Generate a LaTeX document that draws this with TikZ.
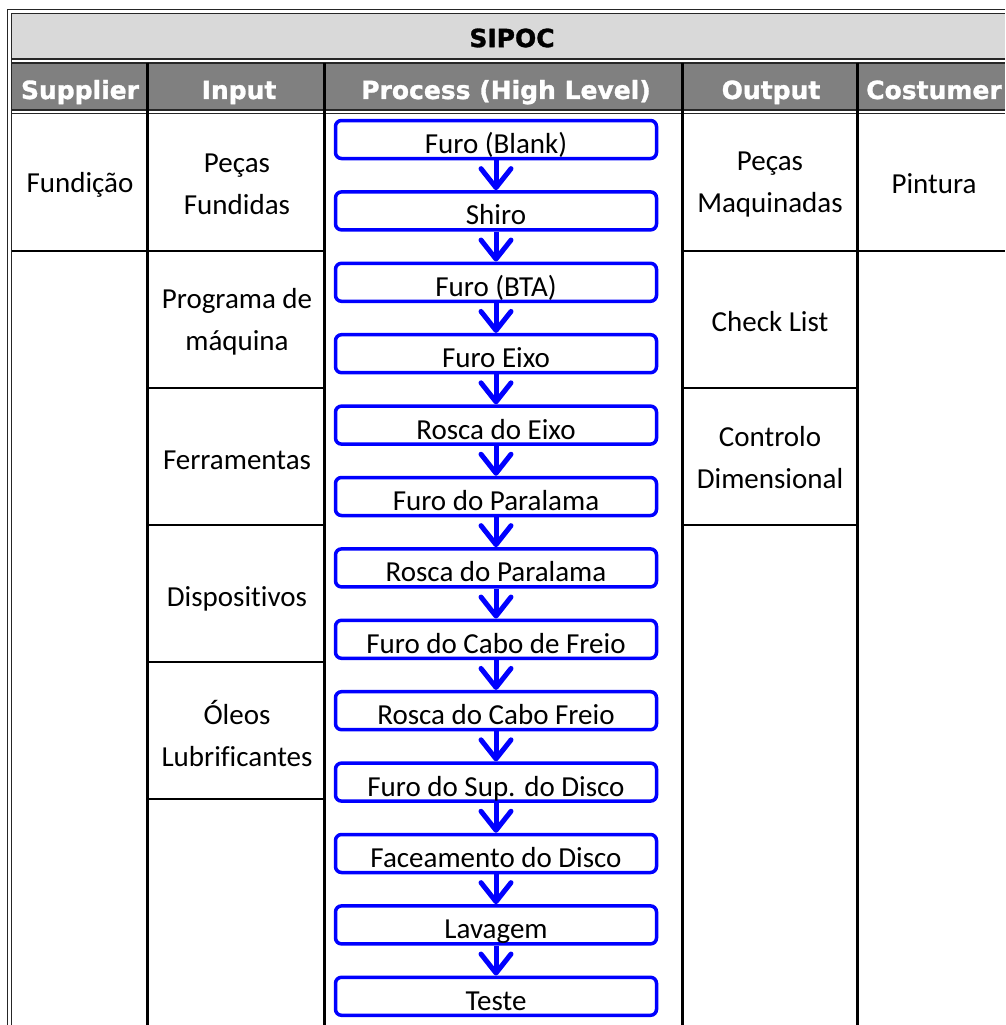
\documentclass[tikz,border=0pt]{standalone}
\usepackage{fontspec}
\setmainfont{Carlito}[Ligatures=CommonOff]
\newfontface\headfont{DejaVu Sans Bold}[FakeBold=1.2]
\usetikzlibrary{arrows.meta}
\definecolor{bandgray}{HTML}{D9D9D9}
\definecolor{headgray}{HTML}{808080}
\definecolor{flowblue}{HTML}{0000FF}

\begin{document}
\begin{tikzpicture}[x=1pt,y=-1pt,
  frameline/.style={draw=black!85, line width=1.3pt},
  colrule/.style={draw=black, line width=3pt},
  rowrule/.style={draw=black, line width=2pt},
  headtext/.style={text=white, font=\headfont\fontsize{25}{30}\selectfont, anchor=base, inner sep=0pt},
  celltext/.style={text=black, font=\fontsize{29}{42}\selectfont, align=center, inner sep=0pt},
  stepbox/.style={draw=flowblue, line width=3.5pt, rounded corners=6pt, fill=white,
    minimum width=321pt, text height=29pt, text depth=1pt, inner ysep=4pt, inner xsep=0pt,
    font=\fontsize{29}{34}\selectfont, text=black},
  flowarrow/.style={draw=flowblue, line width=5pt,
    -{Straight Barb[length=19pt, width=30pt, line cap=round, line join=round]}}
]
\useasboundingbox (0,0) rectangle (1005,1025);

% title band and header row
\fill[bandgray] (11.5,13.5) rectangle (1005,59);
\fill[headgray] (11.5,63) rectangle (1005,110);

% double outer frame
\draw[frameline] (7.5,1025) -- (7.5,9.5) -- (1005,9.5);
\draw[frameline] (11.5,1025) -- (11.5,13.5) -- (1005,13.5);
\draw[frameline] (11.5,59) -- (1005,59);
\draw[frameline] (11.5,63) -- (1005,63);
\draw[frameline] (11.5,110) -- (1005,110);
\draw[frameline] (11.5,113.5) -- (1005,113.5);

% column separators
\foreach \x in {147,324,682,857}
  \draw[colrule] (\x,63) -- (\x,1025);

% row separators
\draw[rowrule] (11.5,251) -- (147,251);
\foreach \y in {251,388,525,662,799}
  \draw[rowrule] (147,\y) -- (324,\y);
\foreach \y in {251,388,525}
  \draw[rowrule] (682,\y) -- (857,\y);
\draw[rowrule] (857,251) -- (1005,251);

% title and column headers
\node[headtext, anchor=center, text=black] (title) at (512,38) {SIPOC};
\node[headtext] (hS) at (80,99)  {Supplier};
\node[headtext] (hI) at (239,99) {Input};
\node[headtext] (hP) at (506,99) {Process (High Level)};
\node[headtext] (hO) at (771,99) {Output};
\node[headtext] (hC) at (934,99) {Costumer};

% supplier
\node[celltext] (sup1) at (80,185) {Fundição};

% inputs
\node[celltext] (in1) at (237,184) {Peças\\Fundidas};
\node[celltext] (in2) at (237,322) {Programa de\\máquina};
\node[celltext] (in3) at (237,460) {Ferramentas};
\node[celltext] (in4) at (237,599) {Dispositivos};
\node[celltext] (in5) at (237,733) {Óleos\\Lubrificantes};

% outputs
\node[celltext] (out1) at (770,185) {Peças\\Maquinadas};
\node[celltext] (out2) at (770,322) {Check List};
\node[celltext] (out3) at (770,458) {Controlo\\Dimensional};

% customer
\node[celltext] (cus1) at (934,184) {Pintura};

% process steps
\foreach \t [count=\i] in {Furo (Blank),Shiro,Furo (BTA),Furo Eixo,Rosca do Eixo,
    Furo do Paralama,Rosca do Paralama,Furo do Cabo de Freio,Rosca do Cabo Freio,
    Furo do Sup. do Disco,Faceamento do Disco,Lavagem,Teste}
  \node[stepbox] (p\i) at (496,{139.5+71.4*(\i-1)}) {\t};

\foreach \i [evaluate=\i as \j using int(\i+1)] in {1,...,12}
  \draw[flowarrow] (p\i.south) -- (p\j.north);
\end{tikzpicture}
\end{document}
